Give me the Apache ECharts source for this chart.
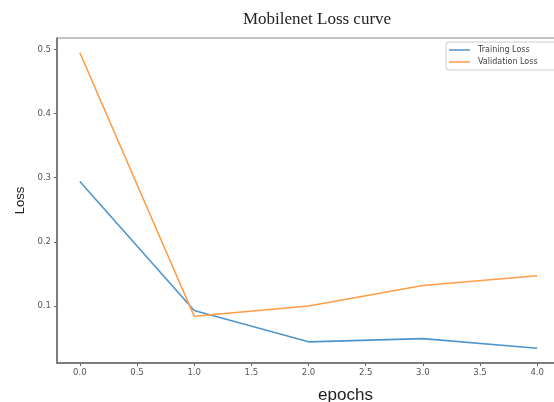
<!DOCTYPE html>
<html>
<head>
<meta charset="utf-8">
<script src="https://cdn.jsdelivr.net/npm/echarts@6/dist/echarts.min.js"></script>
<style>html,body{margin:0;padding:0;background:#fff;}#c{width:554px;height:402px;}</style>
</head>
<body>
<div id="c"></div>
<script>
const epochs = [0, 1, 2, 3, 4];
const trainingLoss = [0.294, 0.093, 0.044, 0.049, 0.034];
const validationLoss = [0.495, 0.084, 0.100, 0.132, 0.147];
const xTicks = [0, 0.5, 1, 1.5, 2, 2.5, 3, 3.5, 4];
const yTicks = [0.1, 0.2, 0.3, 0.4, 0.5];

const chart = echarts.init(document.getElementById('c'), null, {renderer: 'canvas'});
const tickLabel = {color: '#555', fontSize: 8.5, fontFamily: 'DejaVu Sans', formatter: v => Number(v).toFixed(1)};
chart.setOption({
  animation: false,
  backgroundColor: '#fff',
  title: {
    text: 'Mobilenet Loss curve',
    left: 312, top: 6, textAlign: 'center',
    textStyle: {fontFamily: 'Liberation Serif', fontWeight: 'normal', fontSize: 17, color: '#222'}
  },
  legend: {
    left: 446, top: 42, orient: 'vertical',
    icon: 'rect', itemWidth: 21, itemHeight: 1.5, itemGap: 4,
    padding: [4, 24, 4, 3],
    borderColor: '#ccc', borderWidth: 1, borderRadius: 3,
    textStyle: {fontSize: 8, color: '#444', fontFamily: 'DejaVu Sans', padding: [0, 0, 0, 3]},
    data: ['Training Loss', 'Validation Loss']
  },
  grid: {left: 57, top: 38, width: 503, bottom: 39, show: true, borderColor: '#888', borderWidth: 1,
         containLabel: false, outerBoundsMode: 'none'},
  xAxis: {
    type: 'value', min: -0.2, max: 4.2,
    name: 'epochs', nameLocation: 'middle', nameGap: 24,
    nameTextStyle: {fontSize: 17, color: '#222', fontFamily: 'Liberation Sans', padding: [0, 0, 0, 74]},
    axisLine: {show: true, onZero: false, lineStyle: {color: '#666', width: 1.5}},
    axisTick: {show: true, length: 3, customValues: xTicks, lineStyle: {color: '#666'}},
    axisLabel: Object.assign({customValues: xTicks, margin: 5}, tickLabel),
    splitLine: {show: false}
  },
  yAxis: {
    type: 'value', min: 0.011, max: 0.518,
    name: 'Loss', nameLocation: 'middle', nameGap: 25, nameRotate: 90,
    nameTextStyle: {fontSize: 13, color: '#222', fontFamily: 'Liberation Sans Narrow, Liberation Sans'},
    axisLine: {show: true, onZero: false, lineStyle: {color: '#666', width: 1.5}},
    axisTick: {show: true, length: 3, customValues: yTicks, lineStyle: {color: '#666'}},
    axisLabel: Object.assign({customValues: yTicks, margin: 6}, tickLabel),
    splitLine: {show: false}
  },
  series: [
    {name: 'Training Loss', type: 'line', data: epochs.map((e, i) => [e, trainingLoss[i]]),
     showSymbol: false, lineStyle: {color: '#4f95cc', width: 1.6}, itemStyle: {color: '#4f95cc'}},
    {name: 'Validation Loss', type: 'line', data: epochs.map((e, i) => [e, validationLoss[i]]),
     showSymbol: false, lineStyle: {color: '#ff9c45', width: 1.6}, itemStyle: {color: '#ff9c45'}}
  ]
});
</script>
</body>
</html>
